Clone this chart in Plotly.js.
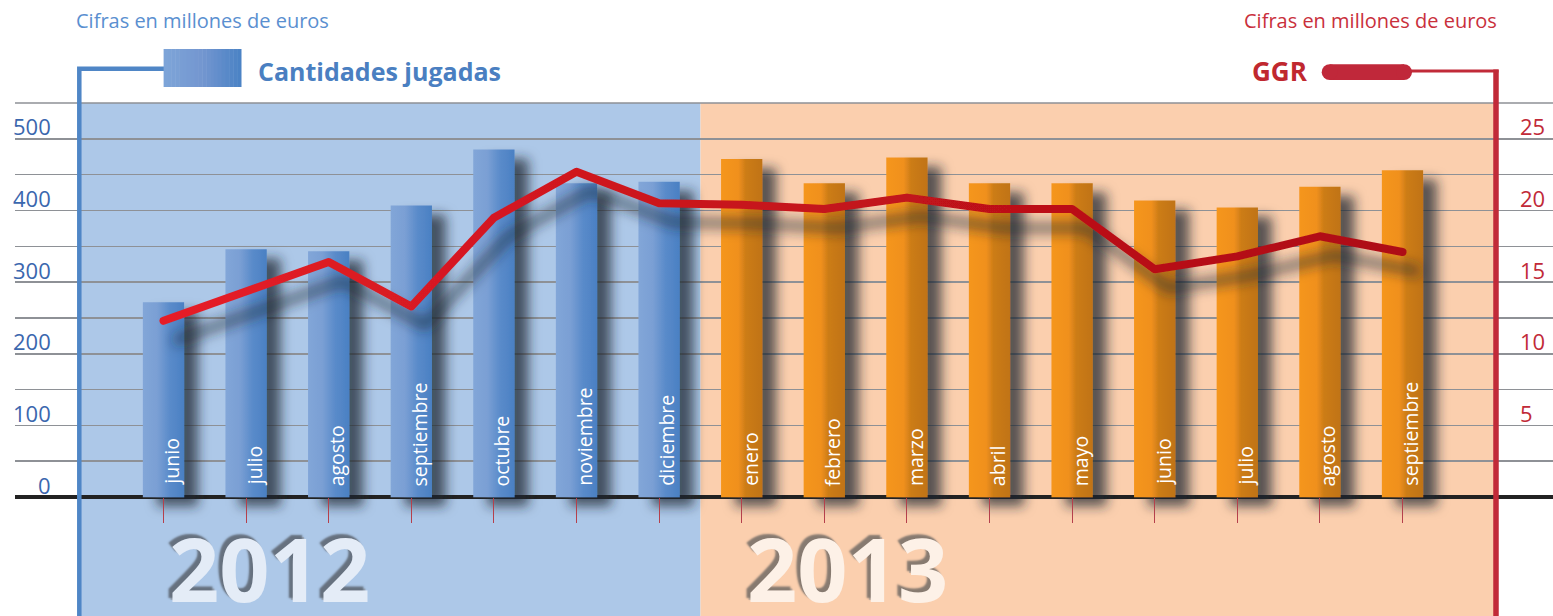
<!DOCTYPE html>
<html>
<head>
<meta charset="utf-8">
<script src="https://cdn.plot.ly/plotly-3.0.1.min.js"></script>
<style>
  html, body { margin: 0; padding: 0; background: #ffffff; }
  #chart { width: 1553px; height: 616px; }
</style>
</head>
<body>
<div id="chart"></div>
<script>
// ---------------- DATA ----------------
const months2012 = ['junio', 'julio', 'agosto', 'septiembre', 'octubre', 'noviembre', 'diciembre'];
const months2013 = ['enero', 'febrero', 'marzo', 'abril', 'mayo', 'junio', 'julio', 'agosto', 'septiembre'];
const jugadas2012 = [272, 346, 343, 407, 485, 438, 440];
const jugadas2013 = [472, 438, 474, 438, 438, 414, 404, 433, 456];
const ggr2012 = [12.3, 14.3, 16.4, 13.3, 19.5, 22.7, 20.5];
const ggr2013 = [20.4, 20.1, 20.9, 20.1, 20.1, 15.9, 16.8, 18.2, 17.1];
const leftTickLabels = [0, 100, 200, 300, 400, 500];
const rightTickLabels = [5, 10, 15, 20, 25];
const yearLabels = ['2012', '2013'];
const unitsText = 'Cifras en millones de euros';
const seriesBarName = 'Cantidades jugadas';
const seriesLineName = 'GGR';

// ---------------- BUILD ----------------
const keys2012 = months2012.map(m => m + ' 2012');
const keys2013 = months2013.map(m => m + ' 2013');
const allKeys = keys2012.concat(keys2013);
const allMonths = months2012.concat(months2013);
const allGGR = ggr2012.concat(ggr2013);

// pixel helpers (plot area: x 15..1553, y 103..616)
const PL = 15, PW = 1538, PT = 103, PH = 513;
const px = p => (p - PL) / PW;
const py = p => (616 - p) / PH;

const FONT = 'Open Sans, Noto Sans, sans-serif';

const traces = [
  {
    type: 'bar', x: keys2012, y: jugadas2012, width: 0.5,
    marker: { color: '#6592cd', line: { width: 0 } },
    hoverinfo: 'skip', showlegend: false
  },
  {
    type: 'bar', x: keys2013, y: jugadas2013, width: 0.5,
    marker: { color: '#e0881c', line: { width: 0 } },
    hoverinfo: 'skip', showlegend: false
  },
  {
    type: 'scatter', mode: 'lines', x: allKeys, y: allGGR, yaxis: 'y2',
    line: { color: '#cc1620', width: 8 },
    hoverinfo: 'skip', showlegend: false, cliponaxis: false
  }
];

const gridVals = [];
for (let v = 0; v <= 550; v += 50) gridVals.push(v);

const shapes = [];
// background panels
shapes.push({ type: 'rect', xref: 'paper', yref: 'paper', x0: px(79), x1: px(700.5), y0: 0, y1: 1,
  fillcolor: '#adc8e8', line: { width: 0 }, layer: 'below' });
shapes.push({ type: 'rect', xref: 'paper', yref: 'paper', x0: px(700.5), x1: px(1494), y0: 0, y1: 1,
  fillcolor: '#fbcfae', line: { width: 0 }, layer: 'below' });
// top gridline
shapes.push({ type: 'line', xref: 'paper', yref: 'paper', x0: 0, x1: 1, y0: 1, y1: 1,
  line: { color: '#8e9196', width: 1.6 }, layer: 'below' });
// blue axis bracket
shapes.push({ type: 'path', xref: 'paper', yref: 'paper',
  path: `M ${px(79.3)} ${py(620)} L ${px(79.3)} ${py(68.8)} L ${px(164)} ${py(68.8)}`,
  line: { color: '#4f86c6', width: 4.5 }, layer: 'above' });
// red axis bracket
shapes.push({ type: 'line', xref: 'paper', yref: 'paper', x0: px(1496), x1: px(1496), y0: py(620), y1: py(69.5),
  line: { color: '#c12a38', width: 5.5 }, layer: 'above' });
shapes.push({ type: 'line', xref: 'paper', yref: 'paper', x0: px(1408), x1: px(1498.5), y0: py(71), y1: py(71),
  line: { color: '#c12a38', width: 3 }, layer: 'above' });
// blue legend swatch (stepped gradient)
(function () {
  const c0 = [126, 165, 216], cm = [115, 150, 208], c1 = [74, 130, 196];
  const n = 20, x0 = 163.6, x1 = 241;
  for (let i = 0; i < n; i++) {
    const t = (i + 0.5) / n;
    let c;
    if (t < 0.5) { const u = t / 0.5; c = c0.map((a, k) => Math.round(a + (cm[k] - a) * u)); }
    else { const u = (t - 0.5) / 0.5; c = cm.map((a, k) => Math.round(a + (c1[k] - a) * u)); }
    shapes.push({ type: 'rect', xref: 'paper', yref: 'paper',
      x0: px(x0 + (x1 - x0) * i / n), x1: px(x0 + (x1 - x0) * (i + 1) / n + 0.5),
      y0: py(87), y1: py(49), fillcolor: `rgb(${c[0]},${c[1]},${c[2]})`, line: { width: 0 }, layer: 'above' });
  }
})();
// red legend stadium
shapes.push({ type: 'rect', xref: 'paper', yref: 'paper', x0: px(1329.7), x1: px(1404), y0: py(80), y1: py(64.3),
  fillcolor: '#c0283a', line: { width: 0 }, layer: 'above' });
shapes.push({ type: 'circle', xref: 'paper', yref: 'paper', x0: px(1321.7), x1: px(1337.7), y0: py(80), y1: py(64.3),
  fillcolor: '#c0283a', line: { width: 0 }, layer: 'above' });
shapes.push({ type: 'circle', xref: 'paper', yref: 'paper', x0: px(1396), x1: px(1412), y0: py(80), y1: py(64.3),
  fillcolor: '#c0283a', line: { width: 0 }, layer: 'above' });

const annotations = [];
// month labels inside bars
allKeys.forEach((k, i) => {
  annotations.push({ xref: 'x', yref: 'y', x: k, y: 0, text: allMonths[i], showarrow: false,
    textangle: -90, xanchor: 'center', yanchor: 'bottom', xshift: 8, yshift: 9,
    font: { family: FONT, size: 19.5, color: '#ffffff' } });
});
// left tick labels
leftTickLabels.forEach(v => {
  annotations.push({ xref: 'paper', yref: 'y', x: px(53), y: v, yshift: 12.5, text: String(v), showarrow: false,
    xanchor: 'right', yanchor: 'middle', font: { family: FONT, size: 22, color: '#3b67ae' } });
});
// right tick labels
rightTickLabels.forEach(v => {
  annotations.push({ xref: 'paper', yref: 'y2', x: px(1518), y: v, yshift: 12.5, text: String(v), showarrow: false,
    xanchor: 'left', yanchor: 'middle', font: { family: FONT, size: 22, color: '#c12a38' } });
});
// header texts
annotations.push({ xref: 'paper', yref: 'paper', x: px(74), y: py(21), text: unitsText, showarrow: false,
  xanchor: 'left', yanchor: 'middle', font: { family: FONT, size: 20, color: '#5a8fd0' } });
annotations.push({ xref: 'paper', yref: 'paper', x: px(1499), y: py(21), text: unitsText, showarrow: false,
  xanchor: 'right', yanchor: 'middle', font: { family: FONT, size: 20, color: '#c9303c' } });
annotations.push({ xref: 'paper', yref: 'paper', x: px(256), y: py(71), text: '<b>' + seriesBarName + '</b>', showarrow: false,
  xanchor: 'left', yanchor: 'middle', font: { family: FONT, size: 25, color: '#4a7fc1' } });
annotations.push({ xref: 'paper', yref: 'paper', x: px(1250), y: py(71), text: '<b>' + seriesLineName + '</b>', showarrow: false,
  xanchor: 'left', yanchor: 'middle', font: { family: FONT, size: 26, color: '#c0282f' } });
// year labels (embossed look via text shadow)
const yearPos = [267, 846];
const yearFill = ['#e4ecf7', '#fdf1e7'];
const yearShadow = [
  '-4px -4px 2px #66717f, -2px -2px 1px #9aa6b5',
  '-4px -4px 2px #877a70, -2px -2px 1px #bba99c'
];
yearLabels.forEach((t, i) => {
  annotations.push({ xref: 'paper', yref: 'paper', x: px(yearPos[i] + 2), y: py(568), text: '<b>' + t + '</b>', showarrow: false,
    xanchor: 'center', yanchor: 'middle',
    font: { family: FONT, size: 88, color: yearFill[i], shadow: yearShadow[i] } });
});

const yTop = 550, unitPx = 358.3 / 500;
const yBottom = yTop - PH / unitPx;

const layout = {
  width: 1553, height: 616,
  margin: { l: PL, r: 0, t: PT, b: 0, pad: 0 },
  paper_bgcolor: '#ffffff', plot_bgcolor: 'rgba(0,0,0,0)',
  barmode: 'overlay', showlegend: false,
  font: { family: FONT },
  xaxis: {
    type: 'category', categoryorder: 'array', categoryarray: allKeys,
    range: [(PL - 163.5) / 82.6, (1553 - 163.5) / 82.6],
    showgrid: false, zeroline: false, showline: false, showticklabels: false,
    ticks: 'outside', ticklen: 25, tickwidth: 1, tickcolor: '#b5404c',
    anchor: 'free', position: (616 - 497.3) / PH, fixedrange: true
  },
  yaxis: {
    range: [yBottom, yTop], tickmode: 'array', tickvals: gridVals, showticklabels: false,
    showgrid: true, gridcolor: '#8e9196', gridwidth: 1.6,
    zeroline: true, zerolinecolor: '#222222', zerolinewidth: 3.5, ticks: '', fixedrange: true
  },
  yaxis2: {
    range: [yBottom / 20, yTop / 20], overlaying: 'y', side: 'right', anchor: 'x',
    showgrid: false, zeroline: false, showticklabels: false, ticks: '', fixedrange: true
  },
  shapes: shapes,
  annotations: annotations
};

const gd = document.getElementById('chart');
Plotly.newPlot(gd, traces, layout, { displayModeBar: false, staticPlot: true }).then(function () {
  try {
    const NS = 'http://www.w3.org/2000/svg';
    const svg = gd.querySelector('.main-svg');
    let defs = svg.querySelector('defs');
    if (!defs) { defs = document.createElementNS(NS, 'defs'); svg.insertBefore(defs, svg.firstChild); }
    function grad(id, stops, horizontal) {
      const g = document.createElementNS(NS, 'linearGradient');
      g.setAttribute('id', id);
      g.setAttribute('x1', '0'); g.setAttribute('y1', '0');
      g.setAttribute('x2', horizontal ? '1' : '0'); g.setAttribute('y2', horizontal ? '0' : '1');
      stops.forEach(s => {
        const st = document.createElementNS(NS, 'stop');
        st.setAttribute('offset', s[0]); st.setAttribute('stop-color', s[1]);
        g.appendChild(st);
      });
      defs.appendChild(g);
    }
    grad('gBlue', [[0, '#82a6d8'], [0.35, '#7a9fd4'], [0.65, '#5a8bca'], [1, '#4a80c3']], true);
    grad('gOrange', [[0, '#f5961f'], [0.42, '#f0901e'], [0.6, '#cc7c17'], [1, '#c07314']], true);
    grad('gRed', [[0, '#e61e27'], [0.45, '#c8141c'], [1, '#ae0d15']], true);
    function shadow(id, blur, dx, dy, op, region) {
      const f = document.createElementNS(NS, 'filter');
      f.setAttribute('id', id);
      f.setAttribute('x', region[0]); f.setAttribute('y', region[1]);
      f.setAttribute('width', region[2]); f.setAttribute('height', region[3]);
      f.innerHTML = `<feGaussianBlur in="SourceAlpha" stdDeviation="${blur}"/>` +
        `<feOffset dx="${dx}" dy="${dy}" result="ob"/>` +
        `<feFlood flood-color="#1e2630" flood-opacity="${op}"/>` +
        `<feComposite in2="ob" operator="in"/>` +
        `<feMerge><feMergeNode/><feMergeNode in="SourceGraphic"/></feMerge>`;
      defs.appendChild(f);
    }
    shadow('shBar', 6, 14, 9, 0.72, ['-10%', '-10%', '130%', '130%']);
    shadow('shLine', 6.5, 14, 19, 0.75, ['-10%', '-60%', '130%', '260%']);
    const barTraces = gd.querySelectorAll('.barlayer .trace');
    ['gBlue', 'gOrange'].forEach((gid, i) => {
      const tr = barTraces[i];
      if (!tr) return;
      tr.querySelectorAll('path').forEach(p => { p.style.fill = `url(#${gid})`; });
      tr.setAttribute('filter', 'url(#shBar)');
    });
    gd.querySelectorAll('.scatterlayer .trace').forEach(tr => {
      tr.querySelectorAll('path.js-line').forEach(p => {
        p.style.stroke = 'url(#gRed)';
        p.style.strokeLinecap = 'round';
        p.style.strokeLinejoin = 'round';
      });
      tr.setAttribute('filter', 'url(#shLine)');
    });
  } catch (e) { console.log(e); }
});
</script>
</body>
</html>
